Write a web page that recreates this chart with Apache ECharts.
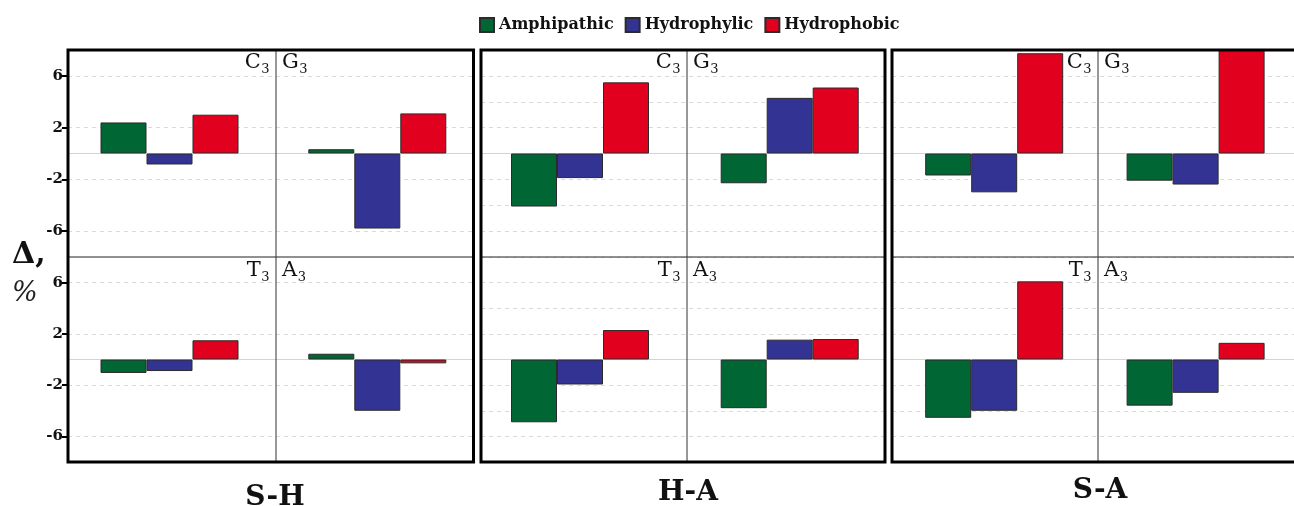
<!DOCTYPE html>
<html>
<head>
<meta charset="utf-8">
<style>
  html, body { margin: 0; padding: 0; background: #fff; }
  #chart { width: 1294px; height: 506px; }
</style>
<script src="https://cdn.jsdelivr.net/npm/echarts@6/dist/echarts.min.js"></script>
</head>
<body>
<div id="chart"></div>
<script>
// Comparison pairs (one panel each) and the nucleotide cells inside a panel
const pairs = ['S-H', 'H-A', 'S-A'];
const cellLetters = ['C', 'G', 'T', 'A'];          // each carries subscript 3
const cellSubscript = '3';
const classes = ['Amphipathic', 'Hydrophylic', 'Hydrophobic'];

// Δ, % per cell, ordered S-H (C3 G3 T3 A3), H-A (C3 G3 T3 A3), S-A (C3 G3 T3 A3)
const amphipathic = [2.4, 0.33, -1.05, 0.45, -4.1, -2.3, -4.9, -3.8, -1.7, -2.1, -4.55, -3.6];
const hydrophylic = [-0.85, -5.8, -0.9, -4.0, -1.9, 4.3, -1.95, 1.55, -3.0, -2.4, -4.0, -2.6];
const hydrophobic = [3.0, 3.1, 1.5, -0.3, 5.5, 5.1, 2.3, 1.6, 7.75, 8.0, 6.1, 1.3];

const yTickValues = [-6, -2, 2, 6];
const yMin = -8, yMax = 8;

// ---- layout ----
const colors = ['#006633', '#333394', '#e2001f'];
const PANELS = [
  { l: 68,  r: 473.5, div: 276,  centers: [169.5, 377.3] },
  { l: 481, r: 885,   div: 687,  centers: [580, 789.7] },
  { l: 892, r: 1303,  div: 1098, centers: [994.2, 1200.2] }
];
const ROWS = [{ t: 50, b: 257, label: 12.5 }, { t: 257, b: 462, label: 14 }];
const CELL_W = 206;
const BAR_W = 46;
const SERIF = 'DejaVu Serif';
const LETTER_FONT = '21px "' + SERIF + '"';
const SUB_FONT = '13px "' + SERIF + '"';
const values = [amphipathic, hydrophylic, hydrophobic];

// text widths for placing a subscript right after its letter
const measureCtx = document.createElement('canvas').getContext('2d');
function textWidth(text, font) { measureCtx.font = font; return measureCtx.measureText(text).width; }

const grid = [], xAxis = [], yAxis = [], series = [], graphic = [];

PANELS.forEach((P, p) => {
  ROWS.forEach((R, r) => {
    // background grid: dashed split lines, zero line, y ticks on the first panel
    const gi = grid.length;
    grid.push({ left: P.l, top: R.t, width: P.r - P.l, height: R.b - R.t });
    xAxis.push({
      type: 'category', gridIndex: gi, data: [''],
      axisLine: { show: true, onZero: true, lineStyle: { color: '#d4d4d4', width: 1 } },
      axisTick: { show: false }, axisLabel: { show: false }, splitLine: { show: false }
    });
    const first = p === 0;
    yAxis.push({
      type: 'value', gridIndex: gi, min: yMin, max: yMax, interval: 2,
      axisLine: { show: false },
      axisTick: first ? { show: true, customValues: yTickValues, length: 6, lineStyle: { color: '#000', width: 2 } } : { show: false },
      axisLabel: first ? {
        show: true, customValues: yTickValues, margin: 5,
        fontFamily: SERIF, fontWeight: 'bold', fontSize: 15, color: '#111'
      } : { show: false },
      splitLine: { show: true, lineStyle: { color: '#dadada', type: [4, 4], width: 1 } }
    });

    // one bar grid per cell
    [0, 1].forEach(c => {
      const cellIdx = p * 4 + r * 2 + c;
      const letter = cellLetters[r * 2 + c];
      const bi = grid.length;
      grid.push({ left: P.centers[c] - CELL_W / 2, top: R.t, width: CELL_W, height: R.b - R.t });
      xAxis.push({ type: 'category', gridIndex: bi, data: [letter + cellSubscript], show: false });
      yAxis.push({ type: 'value', gridIndex: bi, min: yMin, max: yMax, show: false });
      classes.forEach((name, k) => {
        series.push({
          type: 'bar', name, xAxisIndex: bi, yAxisIndex: bi,
          data: [values[k][cellIdx]],
          barWidth: BAR_W, barGap: '0%',
          itemStyle: { color: colors[k], borderColor: '#2b2b2b', borderWidth: 1 },
          emphasis: { disabled: true }, silent: true
        });
      });

      // cell label: letter plus lowered subscript, hugging the column divider
      const subW = textWidth(cellSubscript, SUB_FONT);
      const letW = textWidth(letter, LETTER_FONT);
      const letterX = c === 0 ? P.div - 7 - subW - letW : P.div + 6;
      const yMid = R.t + R.label;
      graphic.push({
        type: 'text', z: 120, x: letterX, y: yMid,
        style: { text: letter, font: LETTER_FONT, fill: '#111', align: 'left', verticalAlign: 'middle' }
      });
      graphic.push({
        type: 'text', z: 120, x: letterX + letW + 0.5, y: yMid + 7,
        style: { text: cellSubscript, font: SUB_FONT, fill: '#111', align: 'left', verticalAlign: 'middle' }
      });
    });
  });

  // panel frame, row separator, column divider
  graphic.push({
    type: 'rect', z: 110,
    shape: { x: P.l, y: ROWS[0].t, width: P.r - P.l, height: ROWS[1].b - ROWS[0].t },
    style: { fill: 'none', stroke: '#000', lineWidth: 3 }
  });
  graphic.push({
    type: 'line', z: 105,
    shape: { x1: P.l, y1: ROWS[0].b, x2: P.r, y2: ROWS[0].b },
    style: { stroke: '#222', lineWidth: 1 }
  });
  graphic.push({
    type: 'line', z: 105,
    shape: { x1: P.div, y1: ROWS[0].t, x2: P.div, y2: ROWS[1].b },
    style: { stroke: '#333', lineWidth: 1 }
  });
});

// pair names under the panels
const pairLabelPos = [[275, 484], [688, 479], [1100, 477]];
pairs.forEach((name, i) => {
  graphic.push({
    type: 'text', z: 120, x: pairLabelPos[i][0], y: pairLabelPos[i][1],
    style: { text: name, align: 'center', verticalAlign: 'top',
             font: 'bold 28px "' + SERIF + '"', fill: '#111' }
  });
});

// y-axis title
graphic.push({
  type: 'text', z: 120, x: 12, y: 240,
  style: { text: 'Δ,', font: 'bold 30px "' + SERIF + '"', fill: '#111', verticalAlign: 'top' }
});
graphic.push({
  type: 'text', z: 120, x: 12, y: 280,
  style: { text: '%', font: 'italic 27px "' + SERIF + '"', fill: '#222', verticalAlign: 'top' }
});

const chart = echarts.init(document.getElementById('chart'), null, { renderer: 'canvas' });
chart.setOption({
  animation: false,
  backgroundColor: '#fff',
  legend: {
    data: classes, left: 474, top: 12,
    itemWidth: 14, itemHeight: 14, itemGap: 11, icon: 'rect',
    textStyle: { fontFamily: SERIF, fontWeight: 'bold', fontSize: 16, color: '#111' }
  },
  grid, xAxis, yAxis, series, graphic
});
</script>
</body>
</html>
